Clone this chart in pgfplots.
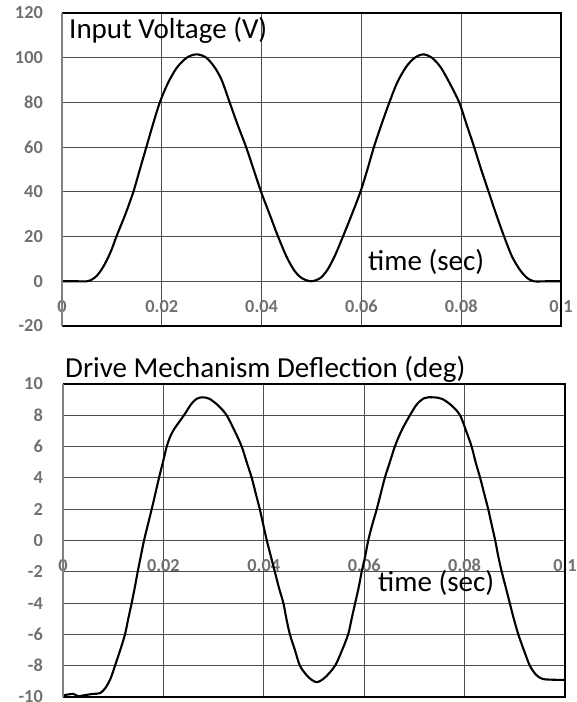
\documentclass[border=0pt]{standalone}
\usepackage{fontspec}
\setmainfont{Carlito}
\usepackage{pgfplots}
\pgfplotsset{compat=1.18}
\definecolor{tickgray}{HTML}{707070}
\definecolor{axisgray}{HTML}{808080}
\definecolor{gridgray}{HTML}{4D4D4D}
\pgfplotsset{
  myaxis/.style={
    scale only axis,
    height=313pt,
    xmin=0, xmax=0.1,
    xtick={0,0.02,0.04,0.06,0.08,0.1},
    xticklabels={0,0.02,0.04,0.06,0.08,0.1},
    grid=major,
    major grid style={draw=gridgray, line width=0.9pt},
    major tick length=0pt,
    axis line style={draw=none},
    tick label style={font=\fontsize{18.3}{18.3}\selectfont\bfseries, text=tickgray, inner sep=0pt},
    yticklabel style={anchor=east},
    xticklabel style={anchor=base},
    clip=false,
  },
}
\newcommand{\drawframe}{%
  \draw[black, line width=2pt] (rel axis cs:0,1) -- (rel axis cs:1,1) -- (rel axis cs:1,0) -- (rel axis cs:0,0);
  \draw[axisgray, line width=2.5pt] (rel axis cs:0,0) -- (rel axis cs:0,1);
}
\begin{document}
\begin{tikzpicture}
\path[use as bounding box] (0pt,0pt) rectangle (577pt,702pt);
% ---------- top panel ----------
\begin{axis}[myaxis,
  at={(62pt,376pt)}, anchor=south west,
  width=499pt,
  ymin=-20, ymax=120,
  ytick={-20,0,20,40,60,80,100,120},
  yticklabels={-20,0,20,40,60,80,100,120},
  yticklabel style={xshift=-19pt},
  xticklabel style={yshift=13.2pt},
]
\addplot[black, line width=2.1pt, smooth, tension=0.5] coordinates {
(0,0) (0.003,0) (0.005,0) (0.006,0.8) (0.007,2.5) (0.008,5.5) (0.009,9.5) (0.010,14.5)
(0.0109,20) (0.0127,30) (0.0143,40) (0.0156,50) (0.0169,60) (0.0182,70) (0.0196,80)
(0.0212,88.5) (0.0230,95.5) (0.0250,100) (0.0269,101.5) (0.0288,100.2) (0.0305,96)
(0.0320,90) (0.0336,80) (0.0352,70) (0.0369,60) (0.0384,50) (0.0399,40) (0.0416,30)
(0.0433,20) (0.0450,11) (0.0465,5) (0.0480,1.5) (0.0499,0) (0.0518,1.5) (0.0533,5.5)
(0.0548,12) (0.0563,20) (0.0581,30) (0.0598,40) (0.0612,50) (0.0625,60) (0.0640,70)
(0.0656,80) (0.0672,89) (0.0690,96) (0.0707,100) (0.0723,101.5) (0.0740,100.2)
(0.0758,96) (0.0776,89) (0.0796,80) (0.0811,70) (0.0826,60) (0.0840,50) (0.0855,40)
(0.0870,30) (0.0886,20) (0.0902,11) (0.0918,5) (0.0932,1.5) (0.0946,0) (0.0970,0) (0.1,0)
};
\drawframe
\end{axis}
% ---------- bottom panel ----------
\begin{axis}[myaxis,
  at={(63pt,5pt)}, anchor=south west,
  width=502pt,
  ymin=-10, ymax=10,
  ytick={-10,-8,-6,-4,-2,0,2,4,6,8,10},
  yticklabels={-10,-8,-6,-4,-2,0,2,4,6,8,10},
  yticklabel style={xshift=-20pt},
  xticklabel style={yshift=125.2pt},
]
\addplot[black, line width=2.1pt, smooth, tension=0.5] coordinates {
(0,-9.9) (0.002,-9.8) (0.003,-9.95) (0.004,-9.9) (0.006,-9.8) (0.0074,-9.75) (0.0085,-9.4) (0.0095,-8.8)
(0.01036,-8) (0.0114,-7) (0.01235,-6) (0.0130,-5) (0.01368,-4) (0.0143,-3) (0.01488,-2)
(0.0155,-1) (0.01614,0) (0.0169,1) (0.01767,2) (0.0184,3) (0.01912,4) (0.0199,5)
(0.02066,6) (0.0213,6.6) (0.0221,7.1) (0.0232,7.6) (0.0243,8.1) (0.0255,8.7) (0.0266,9.05)
(0.0278,9.15) (0.0292,9.05) (0.0310,8.6)
(0.0326,8) (0.0342,7) (0.0356,6) (0.0366,5) (0.0376,4) (0.0384,3) (0.0392,2) (0.0399,1)
(0.0406,0) (0.0414,-1) (0.0422,-2) (0.0430,-3) (0.0439,-4) (0.0445,-5) (0.0452,-6)
(0.0462,-7) (0.0472,-8) (0.0488,-8.7) (0.0505,-9.05) (0.0522,-8.75) (0.0542,-8)
(0.0556,-7) (0.0568,-6) (0.0575,-5) (0.0582,-4) (0.0589,-3) (0.0595,-2) (0.0602,-1)
(0.0608,0) (0.0616,1) (0.0625,2) (0.0633,3) (0.0641,4) (0.0651,5) (0.0661,6) (0.0674,7)
(0.0691,8) (0.0705,8.7) (0.0720,9.1) (0.0737,9.15) (0.0755,9.05) (0.0775,8.6) (0.0791,8) (0.0803,7)
(0.0814,6) (0.0822,5) (0.0831,4) (0.0839,3) (0.0847,2) (0.0854,1) (0.0861,0) (0.0867,-1)
(0.0874,-2) (0.0882,-3) (0.0890,-4) (0.0898,-5) (0.0907,-6) (0.0918,-7) (0.0930,-8)
(0.0943,-8.6) (0.0956,-8.85) (0.0980,-8.9) (0.1,-8.9)
};
\drawframe
\end{axis}
% ---------- texts ----------
\node[anchor=base west, inner sep=0pt, font=\fontsize{29}{29}\selectfont] at (69pt,663pt) {Input Voltage (V)};
\node[anchor=base west, inner sep=0pt, font=\fontsize{29}{29}\selectfont] at (368pt,431pt) {time (sec)};
\node[anchor=base west, inner sep=0pt, font=\fontsize{29}{29}\selectfont] at (65pt,324pt) {Drive Mechanism Deflection (deg)};
\node[anchor=base west, inner sep=0pt, font=\fontsize{29}{29}\selectfont] at (378pt,110pt) {time (sec)};
\end{tikzpicture}
\end{document}
